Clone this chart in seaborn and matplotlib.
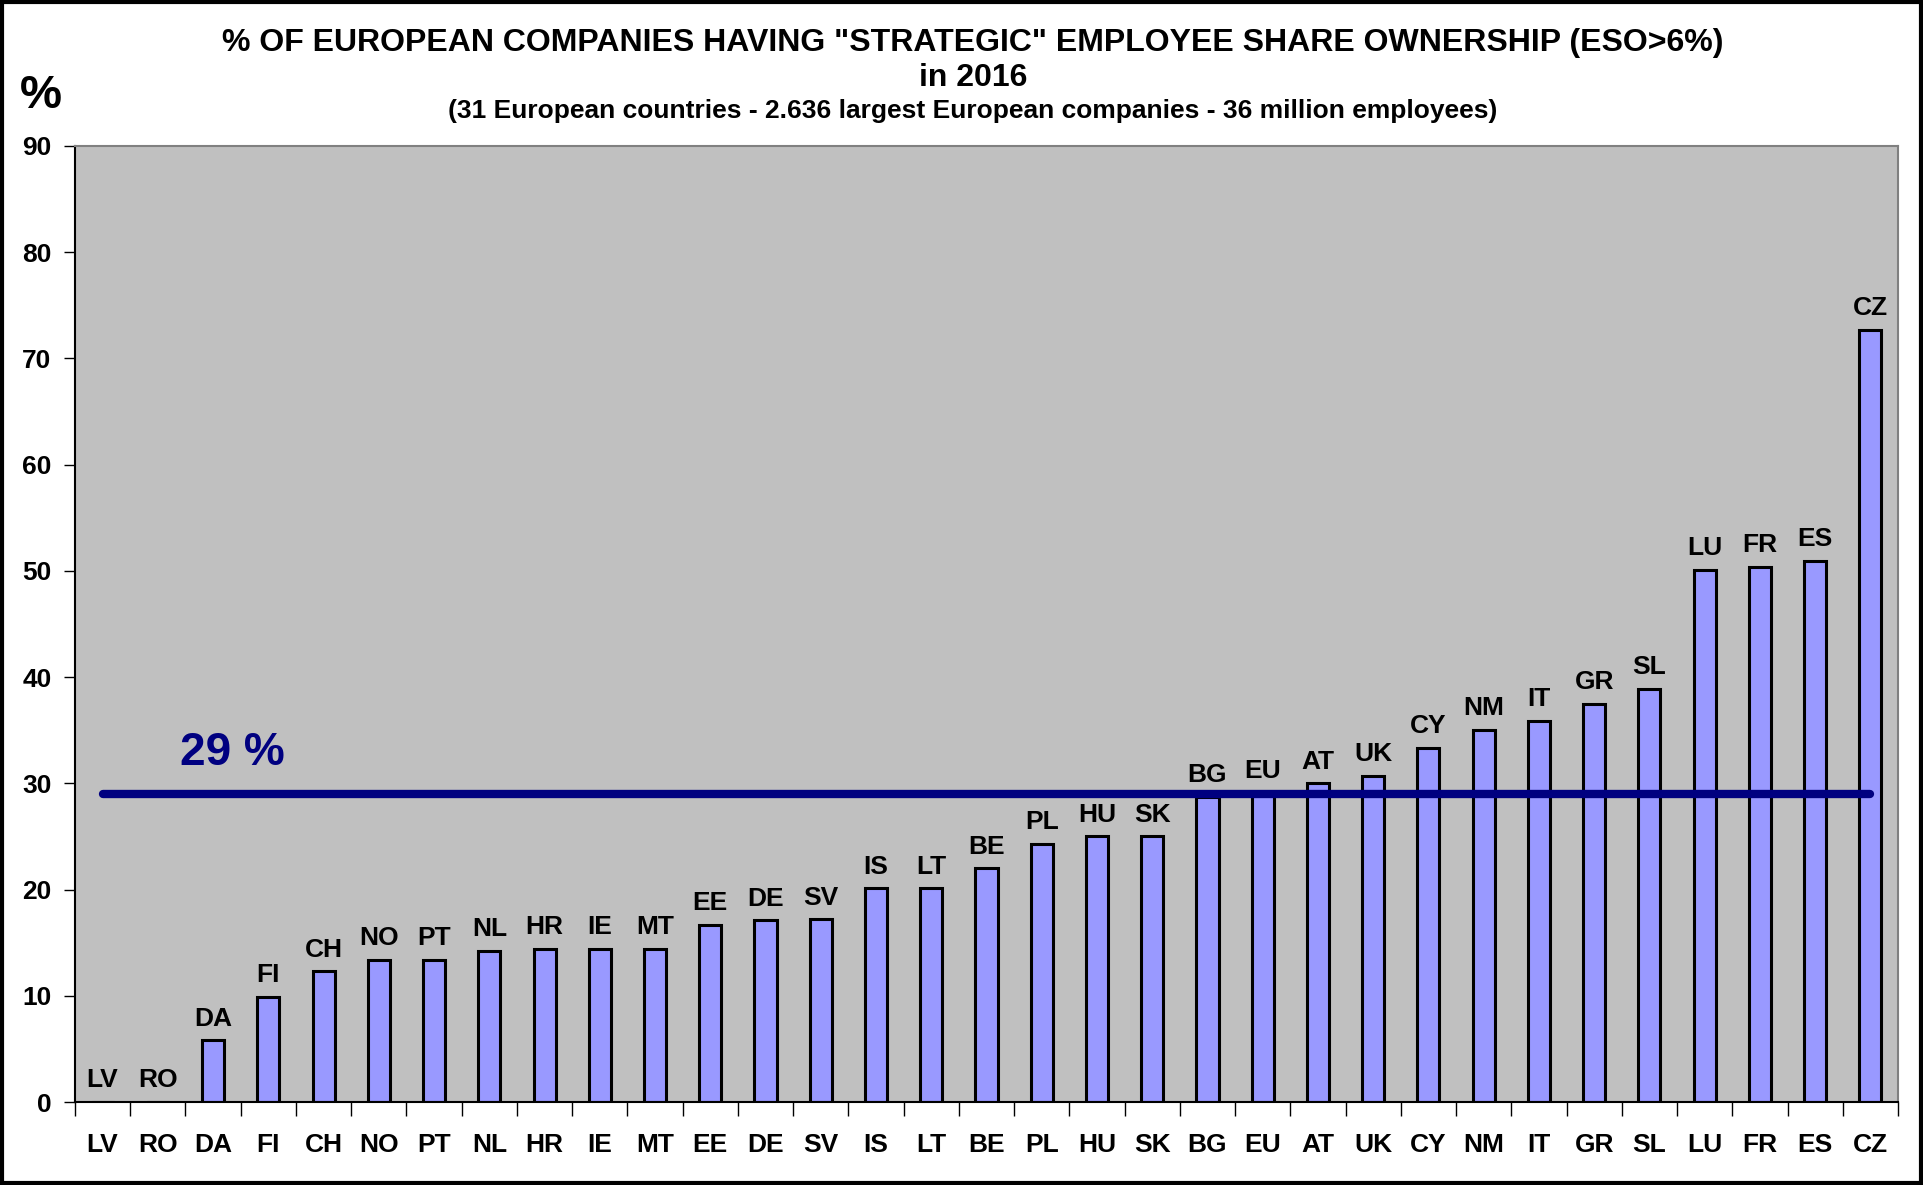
import numpy as np
import pandas as pd
import matplotlib
matplotlib.use("Agg")
import matplotlib.pyplot as plt
import seaborn as sns
from matplotlib.patches import Rectangle
from matplotlib.ticker import FixedLocator

# data
countries = ["LV", "RO", "DA", "FI", "CH", "NO", "PT", "NL", "HR", "IE", "MT",
             "EE", "DE", "SV", "IS", "LT", "BE", "PL", "HU", "SK", "BG", "EU",
             "AT", "UK", "CY", "NM", "IT", "GR", "SL", "LU", "FR", "ES", "CZ"]
values = [0.0, 0.0, 5.8, 9.9, 12.3, 13.4, 13.4, 14.2, 14.4, 14.4, 14.4,
          16.7, 17.1, 17.2, 20.1, 20.1, 22.0, 24.3, 25.0, 25.0, 28.7, 29.1,
          30.0, 30.7, 33.3, 35.0, 35.9, 37.5, 38.9, 50.1, 50.4, 50.9, 72.7]
eu_average = 29
avg_label = "29 %"
y_ticks = [0, 10, 20, 30, 40, 50, 60, 70, 80, 90]

title_1 = '% OF EUROPEAN COMPANIES HAVING "STRATEGIC" EMPLOYEE SHARE OWNERSHIP (ESO>6%)'
title_2 = "in 2016"
title_3 = "(31 European countries - 2.636 largest European companies - 36 million employees)"

df = pd.DataFrame({"country": countries, "value": values})

sns.set_theme(style="white")
plt.rcParams["font.family"] = ["Liberation Sans", "DejaVu Sans"]
plt.rcParams["font.weight"] = "bold"
plt.rcParams["text.color"] = "black"
plt.rcParams["xtick.color"] = "black"
plt.rcParams["ytick.color"] = "black"

fig = plt.figure(figsize=(19.23, 11.85), dpi=100)
ax = fig.add_axes([0.039, 0.070, 0.948, 0.807])
ax.set_facecolor("#C0C0C0")

sns.barplot(data=df, x="country", y="value", order=countries, color="#9999FF",
            saturation=1, width=0.4, edgecolor="black", linewidth=2.2, ax=ax)

# average line, from first to last category centre
ax.plot([0, len(countries) - 1], [eu_average, eu_average], color="#000080",
        lw=6, solid_capstyle="round", zorder=5)
ax.text(1.4, eu_average + 1.8, avg_label, color="#000080", fontsize=33,
        fontweight="bold", ha="left", va="bottom")

# country labels above each bar
for i, (c, v) in enumerate(zip(countries, values)):
    ax.annotate(c, (i, v), xytext=(0, 7), textcoords="offset points",
                ha="center", va="bottom", fontsize=19, fontweight="bold")

ax.set_xlim(-0.5, len(countries) - 0.5)
ax.set_ylim(0, 90)
ax.set_yticks(y_ticks)
ax.set_xlabel("")
ax.set_ylabel("")
ax.tick_params(axis="y", labelsize=19, length=8, width=1, direction="out",
               left=True, pad=9, color="black")
ax.tick_params(axis="x", which="major", labelsize=19, length=0, pad=22)
ax.xaxis.set_minor_locator(FixedLocator(np.arange(-0.5, len(countries), 1)))
ax.tick_params(axis="x", which="minor", length=10, width=1, bottom=True,
               direction="out", color="black")
for lab in ax.get_xticklabels() + ax.get_yticklabels():
    lab.set_fontweight("bold")

for side in ["left", "bottom"]:
    ax.spines[side].set_color("black")
    ax.spines[side].set_linewidth(1.5)
for side in ["top", "right"]:
    ax.spines[side].set_color("#808080")
    ax.spines[side].set_linewidth(1.5)

fig.text(0.506, 0.964, title_1, ha="center", va="center", fontsize=23, fontweight="bold")
fig.text(0.506, 0.934, title_2, ha="center", va="center", fontsize=23, fontweight="bold")
fig.text(0.506, 0.906, title_3, ha="center", va="center", fontsize=19, fontweight="bold")
fig.text(0.021, 0.919, "%", ha="center", va="center", fontsize=34, fontweight="bold")

# black frame around the whole picture
fig.patches.append(Rectangle((0.001, 0.002), 0.998, 0.996, transform=fig.transFigure,
                             fill=False, edgecolor="black", linewidth=3))

fig.savefig("out.png", dpi=100)
